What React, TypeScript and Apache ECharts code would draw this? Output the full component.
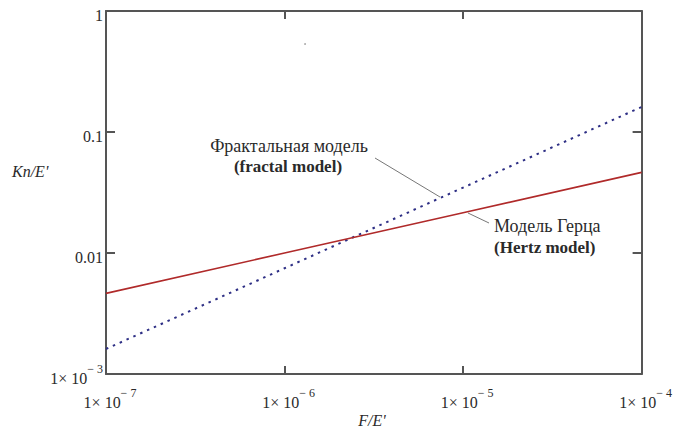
import React, { useEffect, useRef } from "react";
import * as echarts from "echarts";

// F/E' values (x axis, log scale)
const forceValues = [1e-7, 1e-6, 1e-5, 1e-4];
// Kn/E' for the Hertz model (solid red)
const hertzValues = [0.00464, 0.01, 0.0215, 0.0464];
// Kn/E' for the fractal model (dotted blue)
const fractalValues = [0.00161, 0.00748, 0.0347, 0.161];

const xAxisTitle = "F/E'";
const yAxisTitle = "Kn/E'";
const fractalLabel = ["Фрактальная модель", "(fractal model)"];
const hertzLabel = ["Модель Герца", "(Hertz model)"];

const FONT = "Liberation Serif";
const AXIS_COLOR = "#555";
const TEXT_COLOR = "#2a2a2a";

function sciLabel(v: number, plainAbove: number): string {
  const e = Math.round(Math.log10(v));
  if (e >= plainAbove) {
    const s = e >= 0 ? String(Math.pow(10, e)) : Math.pow(10, e).toFixed(-e);
    return `{m|${s}}`;
  }
  return `{m|1× 10}{s|− ${-e}}`;
}

const richStyles = {
  m: {
    fontFamily: FONT,
    fontSize: 16,
    lineHeight: 30,
    color: TEXT_COLOR,
  },
  s: {
    fontFamily: FONT,
    fontSize: 12,
    verticalAlign: "top",
    color: TEXT_COLOR,
  },
};

export default function App() {
  const ref = useRef<HTMLDivElement>(null);

  useEffect(() => {
    if (!ref.current) return;
    const chart = echarts.init(ref.current, undefined, { renderer: "svg" });

    const axisLine = { show: true, lineStyle: { color: AXIS_COLOR, width: 2 } };
    const axisTickStyle = { color: AXIS_COLOR, width: 2 };

    chart.setOption({
      animation: false,
      backgroundColor: "#fff",
      textStyle: { fontFamily: FONT },
      grid: { left: 106, right: 30, top: 11, bottom: 56, containLabel: false },
      xAxis: [
        {
          type: "log",
          logBase: 10,
          min: 1e-7,
          max: 1e-4,
          position: "bottom",
          axisLine,
          axisTick: { show: true, inside: true, length: 8, lineStyle: axisTickStyle },
          splitLine: { show: false },
          axisLabel: {
            show: true,
            margin: 13,
            padding: [0, 0, 0, 8],
            showMinLabel: true,
            showMaxLabel: true,
            fontFamily: FONT,
            formatter: (v: number) => sciLabel(v, 100),
            rich: richStyles,
          },
        },
        {
          type: "log",
          logBase: 10,
          min: 1e-7,
          max: 1e-4,
          position: "top",
          axisLine,
          axisTick: { show: true, inside: true, length: 8, lineStyle: axisTickStyle },
          splitLine: { show: false },
          axisLabel: { show: false },
        },
      ],
      yAxis: [
        {
          type: "log",
          logBase: 10,
          min: 1e-3,
          max: 1,
          position: "left",
          axisLine,
          axisTick: { show: true, inside: true, length: 9, lineStyle: axisTickStyle },
          splitLine: { show: false },
          axisLabel: {
            show: true,
            margin: 3,
            padding: [8, 0, 0, 0],
            showMinLabel: true,
            showMaxLabel: true,
            fontFamily: FONT,
            formatter: (v: number) => sciLabel(v, -2),
            rich: richStyles,
          },
        },
        {
          type: "log",
          logBase: 10,
          min: 1e-3,
          max: 1,
          position: "right",
          axisLine,
          axisTick: { show: true, inside: true, length: 9, lineStyle: axisTickStyle },
          splitLine: { show: false },
          axisLabel: { show: false },
        },
      ],
      series: [
        {
          name: "fractal",
          type: "line",
          xAxisIndex: 0,
          yAxisIndex: 0,
          showSymbol: false,
          symbol: "none",
          data: forceValues.map((x, i) => [x, fractalValues[i]]),
          lineStyle: { color: "#2e2f85", width: 2, type: [2.5, 5] },
          z: 3,
        },
        {
          name: "hertz",
          type: "line",
          xAxisIndex: 0,
          yAxisIndex: 0,
          showSymbol: false,
          symbol: "none",
          data: forceValues.map((x, i) => [x, hertzValues[i]]),
          lineStyle: { color: "#b02a2a", width: 1.6 },
          z: 4,
        },
      ],
      graphic: [
        {
          type: "text",
          x: 12,
          y: 171,
          style: {
            text: yAxisTitle,
            font: `italic 16px ${FONT}`,
            fill: TEXT_COLOR,
            align: "left",
            verticalAlign: "middle",
          },
        },
        {
          type: "text",
          x: 372,
          y: 420,
          style: {
            text: xAxisTitle,
            font: `italic 16px ${FONT}`,
            fill: TEXT_COLOR,
            align: "center",
            verticalAlign: "middle",
          },
        },
        {
          type: "text",
          x: 289,
          y: 146,
          style: {
            text: fractalLabel[0],
            font: `18px ${FONT}`,
            fill: TEXT_COLOR,
            align: "center",
            verticalAlign: "middle",
          },
        },
        {
          type: "text",
          x: 288,
          y: 166,
          style: {
            text: fractalLabel[1],
            font: `bold 17px ${FONT}`,
            fill: TEXT_COLOR,
            align: "center",
            verticalAlign: "middle",
          },
        },
        {
          type: "text",
          x: 494,
          y: 226,
          style: {
            text: hertzLabel[0],
            font: `18px ${FONT}`,
            fill: TEXT_COLOR,
            align: "left",
            verticalAlign: "middle",
          },
        },
        {
          type: "text",
          x: 494,
          y: 247,
          style: {
            text: hertzLabel[1],
            font: `bold 17px ${FONT}`,
            fill: TEXT_COLOR,
            align: "left",
            verticalAlign: "middle",
          },
        },
        {
          type: "line",
          shape: { x1: 375, y1: 158, x2: 440, y2: 197 },
          style: { stroke: "#777", lineWidth: 1 },
        },
        {
          type: "line",
          shape: { x1: 468, y1: 213, x2: 489, y2: 223 },
          style: { stroke: "#777", lineWidth: 1 },
        },
        {
          type: "circle",
          shape: { cx: 305, cy: 44, r: 0.8 },
          style: { fill: "#999" },
        },
      ],
    });

    return () => chart.dispose();
  }, []);

  return (
    <div
      ref={ref}
      style={{ position: "fixed", left: 0, top: 0, width: 675, height: 430, background: "#fff" }}
    />
  );
}
